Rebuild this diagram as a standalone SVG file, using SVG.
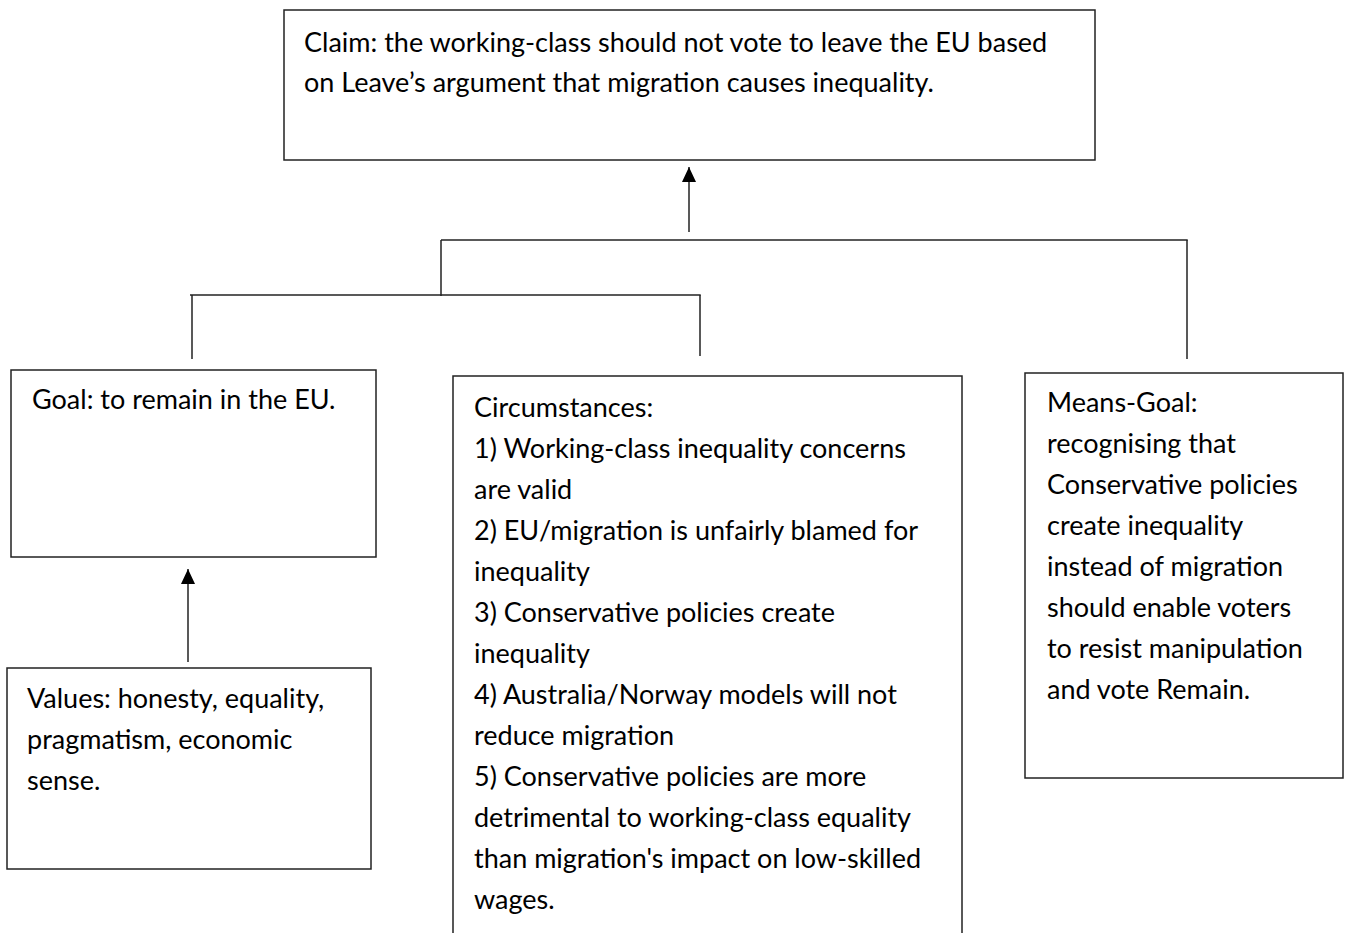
<svg xmlns="http://www.w3.org/2000/svg" width="1348" height="933" viewBox="0 0 1348 933">
  <style>
    .box { fill: #ffffff; stroke: #222222; stroke-width: 1.5; }
    .t { font-family: Lato, "Open Sans", "Liberation Sans", sans-serif; font-size: 27px; fill: #000000; }
    .ln { fill: none; stroke: #222222; stroke-width: 1.5; }
  </style>
  <defs>
    <marker id="arr" markerUnits="userSpaceOnUse" markerWidth="16" markerHeight="16" viewBox="0 0 16 16" refX="15" refY="8" orient="auto">
      <path d="M0,1 L15,8 L0,15 Z" fill="#000000"/>
    </marker>
  </defs>
  <rect width="1348" height="933" fill="#ffffff"/>

  <g id="connectors">
    <line class="ln" x1="689" y1="232" x2="689" y2="167" marker-end="url(#arr)"/>
    <line class="ln" x1="441" y1="240" x2="1187.7" y2="240"/>
    <line class="ln" x1="441" y1="240" x2="441" y2="296"/>
    <line class="ln" x1="1187" y1="240" x2="1187" y2="359"/>
    <line class="ln" x1="190" y1="295" x2="700.7" y2="295"/>
    <line class="ln" x1="192" y1="295" x2="192" y2="359"/>
    <line class="ln" x1="700" y1="295" x2="700" y2="356"/>
    <line class="ln" x1="188" y1="662" x2="188" y2="569" marker-end="url(#arr)"/>
  </g>

  <g id="claim">
    <rect class="box" x="284" y="10" width="811" height="150"/>
    <text class="t" x="304" y="52">Claim: the working-class should not vote to leave the EU based</text>
    <text class="t" x="304" y="92">on Leave’s argument that migration causes inequality.</text>
  </g>

  <g id="goal">
    <rect class="box" x="11" y="370" width="365" height="187"/>
    <text class="t" x="32" y="409">Goal: to remain in the EU.</text>
  </g>

  <g id="values">
    <rect class="box" x="7" y="668" width="364" height="201"/>
    <text class="t" x="27" y="708">Values: honesty, equality,</text>
    <text class="t" x="27" y="749">pragmatism, economic</text>
    <text class="t" x="27" y="790">sense.</text>
  </g>

  <g id="circumstances">
    <rect class="box" x="453" y="376" width="509" height="600"/>
    <text class="t" x="474" y="417">Circumstances:</text>
    <text class="t" x="474" y="458">1) Working-class inequality concerns</text>
    <text class="t" x="474" y="499">are valid</text>
    <text class="t" x="474" y="540">2) EU/migration is unfairly blamed for</text>
    <text class="t" x="474" y="581">inequality</text>
    <text class="t" x="474" y="622">3) Conservative policies create</text>
    <text class="t" x="474" y="663">inequality</text>
    <text class="t" x="474" y="704">4) Australia/Norway models will not</text>
    <text class="t" x="474" y="745">reduce migration</text>
    <text class="t" x="474" y="786">5) Conservative policies are more</text>
    <text class="t" x="474" y="827">detrimental to working-class equality</text>
    <text class="t" x="474" y="868">than migration's impact on low-skilled</text>
    <text class="t" x="474" y="909">wages.</text>
  </g>

  <g id="means-goal">
    <rect class="box" x="1025" y="373" width="318" height="405"/>
    <text class="t" x="1047" y="412">Means-Goal:</text>
    <text class="t" x="1047" y="453">recognising that</text>
    <text class="t" x="1047" y="494">Conservative policies</text>
    <text class="t" x="1047" y="535">create inequality</text>
    <text class="t" x="1047" y="576">instead of migration</text>
    <text class="t" x="1047" y="617">should enable voters</text>
    <text class="t" x="1047" y="658">to resist manipulation</text>
    <text class="t" x="1047" y="699">and vote Remain.</text>
  </g>
</svg>
